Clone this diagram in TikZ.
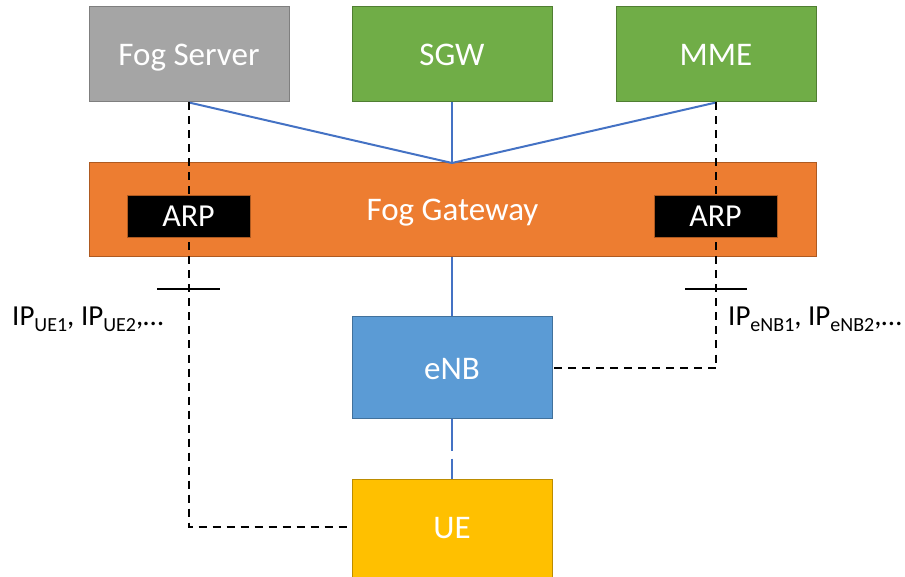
\documentclass[tikz,border=0pt]{standalone}
\usepackage{fontspec}
\setmainfont{Carlito}
\definecolor{srvfill}{HTML}{A5A5A5}\definecolor{srvline}{HTML}{7F7F7F}
\definecolor{grnfill}{HTML}{70AD47}\definecolor{grnline}{HTML}{507E32}
\definecolor{orgfill}{HTML}{ED7D31}\definecolor{orgline}{HTML}{AE5A21}
\definecolor{blufill}{HTML}{5B9BD5}\definecolor{bluline}{HTML}{41719C}
\definecolor{yelfill}{HTML}{FFC000}\definecolor{yelline}{HTML}{BC8C00}
\definecolor{linkblue}{HTML}{4472C4}
\newcommand{\subtxt}[1]{\raisebox{-6pt}{\fontsize{20}{24}\selectfont #1}}
\tikzset{
  box/.style={draw, line width=1pt, minimum width=200pt, minimum height=95pt,
    inner sep=0pt, text=white, font=\fontsize{33}{40}\selectfont,
    text height=23pt, text depth=0pt},
  arpbox/.style={draw=orgline, fill=black, line width=0.8pt, minimum width=123pt,
    minimum height=42pt, inner sep=0pt, text=white, font=\fontsize{32}{40}\selectfont,
    text height=21pt, text depth=0pt},
  boxtext/.style={anchor=base, inner sep=0pt, text=white, font=\fontsize{33}{40}\selectfont},
  link/.style={draw=linkblue, line width=2pt},
  wire/.style={draw=black, line width=2pt, dash pattern=on 8pt off 6pt},
  tick/.style={draw=black, line width=2pt},
  iplabel/.style={anchor=base west, inner sep=0pt, font=\fontsize{29}{35}\selectfont}
}
\begin{document}
\begin{tikzpicture}[x=1pt,y=-1pt]
  \clip (0,0) rectangle (905,577);
  \useasboundingbox (0,0) rectangle (905,577);
  % top row of servers
  \node[box, fill=srvfill, draw=srvline] (fs)  at (189,54.5) {Fog Server};
  \node[box, fill=grnfill, draw=grnline] (sgw) at (452,54.5) {SGW};
  \node[box, fill=grnfill, draw=grnline] (mme) at (716,54.5) {MME};
  % gateway
  \node[box, fill=orgfill, draw=orgline, minimum width=727pt, minimum height=94pt]
    (gw) at (452.5,210) {};
  \node[boxtext] (gwlabel) at (452.5,221) {Fog Gateway};
  \coordinate (gwtop) at (452,163);
  \coordinate (gwbot) at (452,257);
  % access side
  \node[box, fill=blufill, draw=bluline, minimum height=101pt] (enb) at (452,367.5) {eNB};
  \node[box, fill=yelfill, draw=yelline, minimum height=100pt] (ue) at (452,529) {};
  \node[boxtext] (uelabel) at (452,538) {UE};
  % blue links
  \draw[link] (fs.south) -- (gwtop);
  \draw[link] (sgw.south) -- (gwtop);
  \draw[link] (mme.south) -- (gwtop);
  \draw[link] (gwbot) -- (enb.north);
  \draw[link, dash pattern=on 32pt off 8pt] (enb.south) -- (ue.north);
  % ARP paths
  \coordinate (lcorner) at (189,527);
  \coordinate (rcorner) at (716,368);
  \draw[wire] (fs.south) -- (lcorner) -- (ue.west |- lcorner);
  \draw[wire] (mme.south) -- (rcorner) -- (enb.east |- rcorner);
  \node[arpbox] (arpl) at (188.5,216.5) {ARP};
  \node[arpbox] (arpr) at (715.5,216.5) {ARP};
  % taps
  \coordinate (tl1) at (157,289); \coordinate (tl2) at (220,289);
  \coordinate (tr1) at (685,289); \coordinate (tr2) at (747,289);
  \draw[tick] (tl1) -- (tl2);
  \draw[tick] (tr1) -- (tr2);
  \node[iplabel] (ipue) at (12,326) {IP\subtxt{UE1}, IP\subtxt{UE2},…};
  \node[iplabel] (ipenb) at (728,326) {IP\subtxt{eNB1}, IP\subtxt{eNB2},…};
\end{tikzpicture}
\end{document}
